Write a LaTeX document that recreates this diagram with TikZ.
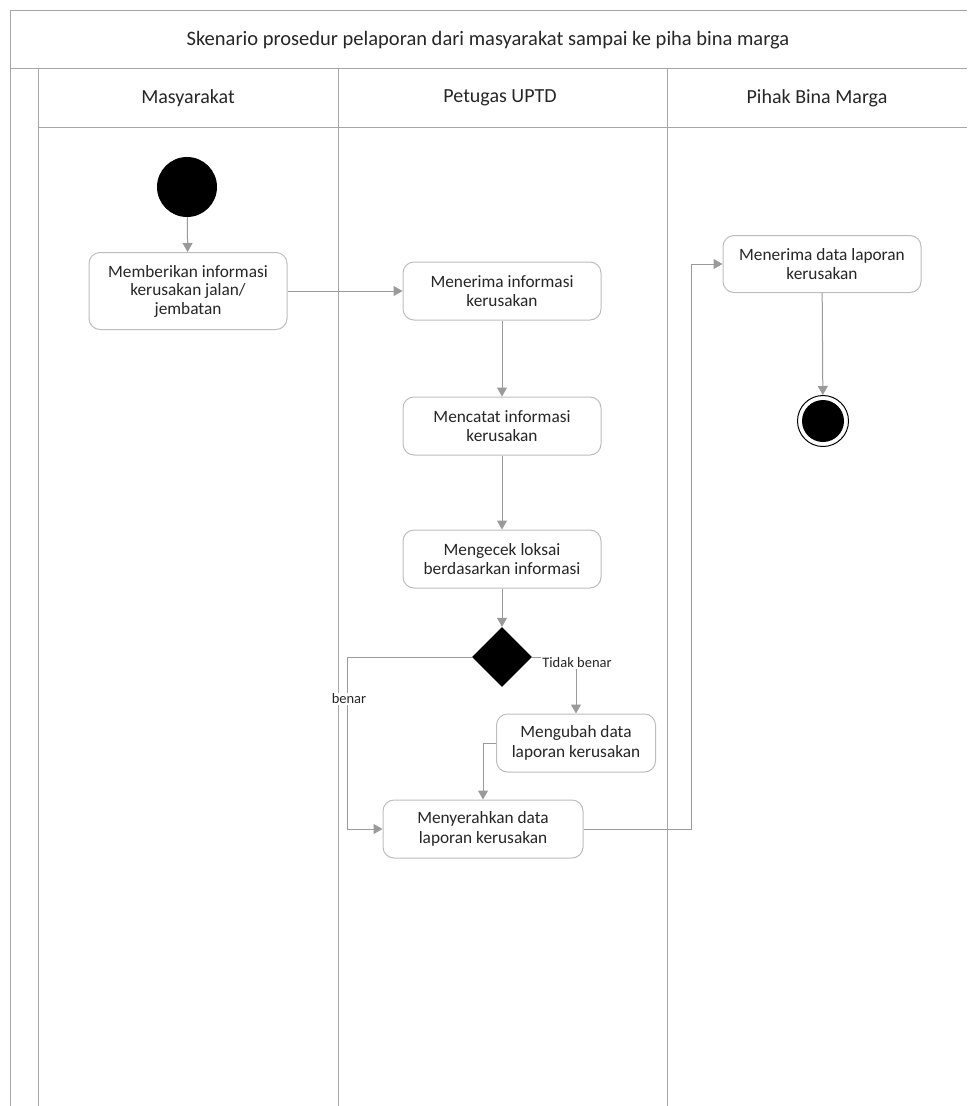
\documentclass[tikz,border=0pt]{standalone}
\usepackage{fontspec}
\setmainfont{Carlito}
\usetikzlibrary{shapes.geometric,arrows.meta}
\definecolor{lanegray}{HTML}{A6A6A6}
\definecolor{flowgray}{HTML}{9A9A9A}
\definecolor{boxgray}{HTML}{BDBDBD}
\definecolor{inkgray}{HTML}{262626}

\begin{document}
\begin{tikzpicture}[x=1pt,y=-1pt,
  lane/.style={draw=lanegray, line width=1pt},
  act/.style={draw=boxgray, rounded corners=11pt, fill=white, minimum width=198pt,
    minimum height=58pt, align=center, inner sep=2pt, text=inkgray, line width=1pt,
    font=\fontsize{17.3}{19.5}\selectfont},
  flow/.style={draw=flowgray, line width=1pt, -{Triangle[length=9pt,width=10pt]}},
  head/.style={text=inkgray, font=\fontsize{20.5}{23}\selectfont},
  guard/.style={fill=white, inner sep=1pt, text=inkgray, font=\fontsize{14.5}{16}\selectfont}]
\useasboundingbox (0,0) rectangle (967,1106);

% frame and swimlanes
\draw[lane] (967,10) -- (10,10) -- (10,1106);
\draw[lane] (10,68) -- (967,68);
\draw[lane] (38,127) -- (967,127);
\draw[lane] (38,68) -- (38,1106);
\draw[lane] (338,68) -- (338,1106);
\draw[lane] (667,68) -- (667,1106);

\node[head] (title) at (488,40) {Skenario prosedur pelaporan dari masyarakat sampai ke piha bina marga};
\node[head, font=\fontsize{20}{23}\selectfont] (h1) at (188,98) {Masyarakat};
\node[head, font=\fontsize{20}{23}\selectfont] (h2) at (500,98) {Petugas UPTD};
\node[head, font=\fontsize{20}{23}\selectfont] (h3) at (817,98) {Pihak Bina Marga};

% activities
\node[circle, fill=black, minimum size=60pt, inner sep=0pt] (start) at (187,187) {};
\node[act, minimum height=77pt, font=\fontsize{17.3}{18.5}\selectfont] (a1) at (188,291) {Memberikan informasi\\kerusakan jalan/\\jembatan};
\node[act] (a2) at (502,291) {Menerima informasi\\kerusakan};
\node[act] (a3) at (502,426) {Mencatat informasi\\kerusakan};
\node[act] (a4) at (502,559) {Mengecek loksai\\berdasarkan informasi};
\node[diamond, fill=black, minimum width=60pt, minimum height=60pt, inner sep=0pt] (dec) at (502,657) {};
\node[act, minimum width=159pt] (a5) at (576,743) {Mengubah data\\laporan kerusakan};
\node[act, minimum width=200pt] (a6) at (483,829) {Menyerahkan data\\laporan kerusakan};
\node[act, minimum height=57pt] (b1) at (822,264) {Menerima data laporan\\kerusakan};
\node[circle, draw=black, line width=1pt, fill=white, minimum size=51pt, inner sep=0pt] (end) at (823,421) {};
\node[circle, fill=black, minimum size=42pt, inner sep=0pt] (endcore) at (823,421) {};

% control flow
\coordinate (benarx) at (347,657);
\coordinate (jump) at (691,829);
\draw[flow] (start) -- (a1);
\draw[flow] (a1.east |- a2.west) -- (a2.west);
\draw[flow] (a2) -- (a3);
\draw[flow] (a3) -- (a4);
\draw[flow] (a4) -- (dec);
\draw[flow] (dec.west) -- (benarx) |- (a6.west);
\draw[flow] (dec.east) -| (a5.north);
\draw[flow] (a5.west) -| (a6.north);
\draw[flow] (a6.east) -- (jump) |- (b1.west);
\draw[flow] (b1) -- (end);

% guards
\node[guard] (gbenar) at (349,699) {benar};
\node[guard] (gtidak) at (577,663) {Tidak benar};
\end{tikzpicture}
\end{document}
